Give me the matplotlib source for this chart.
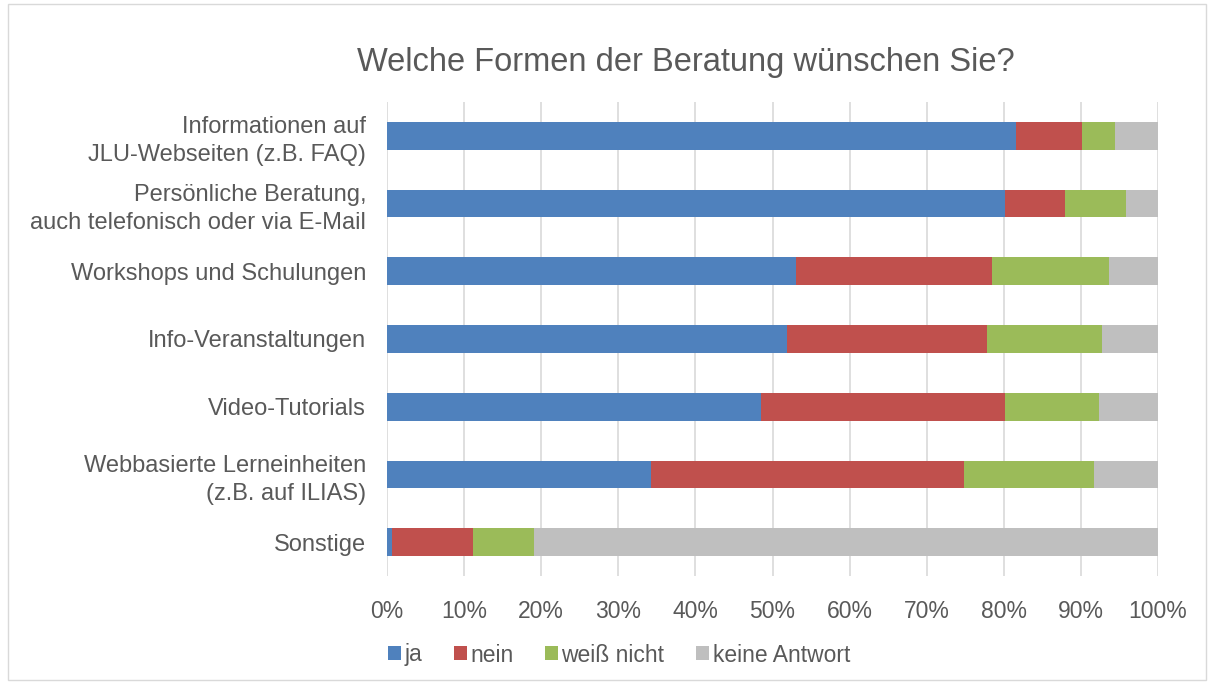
import matplotlib.pyplot as plt
import numpy as np
from matplotlib.patches import Rectangle

plt.rcParams['font.family'] = ['Liberation Sans', 'DejaVu Sans']

categories = [
    "Informationen auf\nJLU-Webseiten (z.B. FAQ)",
    "Persönliche Beratung,\nauch telefonisch oder via E-Mail",
    "Workshops und Schulungen",
    "Info-Veranstaltungen",
    "Video-Tutorials",
    "Webbasierte Lerneinheiten\n(z.B. auf ILIAS)",
    "Sonstige",
]

# percentages
ja = [81.6, 80.1, 53.0, 51.9, 48.5, 34.2, 0.7]
nein = [8.6, 7.9, 25.5, 25.9, 31.6, 40.6, 10.5]
weiss_nicht = [4.2, 7.9, 15.1, 15.0, 12.3, 16.9, 7.9]
keine_antwort = [5.6, 4.1, 6.4, 7.2, 7.6, 8.3, 80.9]

series = [ja, nein, weiss_nicht, keine_antwort]
labels = ["ja", "nein", "weiß nicht", "keine Antwort"]
colors = ["#4f81bd", "#c0504d", "#9bbb59", "#bfbfbf"]

fig = plt.figure(figsize=(12.14, 6.84), dpi=100)
ax = fig.add_axes([387 / 1214, 1 - 576 / 684, 771 / 1214, 474 / 684])

y = np.arange(len(categories))
left = np.zeros(len(categories))
for vals, lab, col in zip(series, labels, colors):
    ax.barh(y, vals, left=left, height=0.41, color=col, label=lab, zorder=3)
    left += np.array(vals)

ax.set_xlim(0, 100)
ax.set_ylim(len(categories) - 0.5, -0.5)
ax.set_yticks(y)
ax.set_yticklabels(categories, fontsize=17, color="#595959", linespacing=1.35)
ax.set_xticks(np.arange(0, 101, 10))
ax.set_xticklabels([f"{v}%" for v in range(0, 101, 10)], fontsize=16.5, color="#595959")
ax.tick_params(axis="y", length=0, pad=15)
ax.tick_params(axis="x", length=0, pad=17)
ax.grid(axis="x", color="#d9d9d9", linewidth=1.2, zorder=0)
for s in ax.spines.values():
    s.set_visible(False)

fig.text(686 / 1214, 1 - 62 / 684, "Welche Formen der Beratung wünschen Sie?",
         ha="center", va="center", fontsize=23.5, color="#595959")

fig.legend(loc="center", bbox_to_anchor=(619 / 1214, 1 - 655 / 684), ncol=4,
           frameon=False, fontsize=16.5, labelcolor="#595959",
           handlelength=0.55, handleheight=0.55, handletextpad=0.15, columnspacing=1.4)

fig.patches.append(Rectangle((8 / 1214, 4 / 684), 1198 / 1214, 676 / 684,
                             transform=fig.transFigure, fill=False,
                             edgecolor="#d9d9d9", linewidth=1))

fig.savefig("out.png", dpi=100)
